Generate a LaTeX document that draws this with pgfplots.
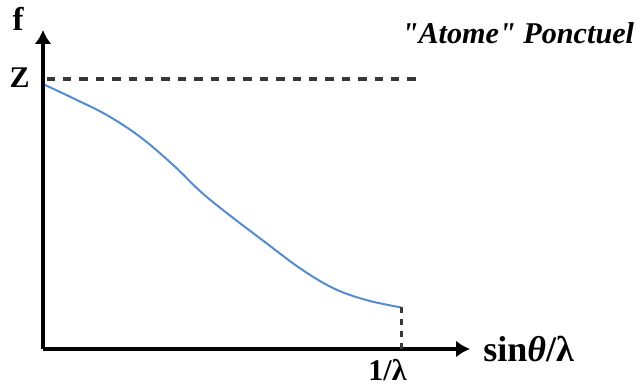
\documentclass[border=0pt]{standalone}
\usepackage{fontspec}
\setmainfont{Liberation Serif}[Ligatures=TeXOff]
\usepackage{pgfplots}
\pgfplotsset{compat=1.18}
\usetikzlibrary{arrows.meta}
\definecolor{curveblue}{RGB}{85,140,208}
\definecolor{dashgray}{RGB}{55,55,55}
\begin{document}
\begin{tikzpicture}[x=0.5pt,y=0.5pt]
\useasboundingbox (-43,-36) rectangle (599,349);
\begin{axis}[
  at={(0,0)}, anchor=south west,
  scale only axis, width=213.5pt, height=159.5pt,
  xmin=0, xmax=1.1927, ymin=0, ymax=1.1815,
  axis lines=left,
  axis line style={line width=2.3pt, -{Latex[length=7pt,width=8.5pt]}},
  ticks=none,
  clip=false,
]
\addplot[curveblue, line width=1pt, smooth, tension=0.6] coordinates {
(0.0056,0.978) (0.0846,0.9285) (0.178,0.8667) (0.271,0.786) (0.364,0.681)
(0.4385,0.585) (0.513,0.504) (0.625,0.391) (0.718,0.299) (0.811,0.225)
(0.904,0.181) (1.0,0.154)};
\addplot[dashgray, line width=1.8pt, dash pattern=on 4.2pt off 4pt] coordinates {(0.01,1) (1.053,1)};
\addplot[dashgray, line width=1.5pt, dash pattern=on 3pt off 3pt] coordinates {(1,0) (1,0.154)};
\node[anchor=base, inner sep=0pt, font=\fontsize{16.5}{19}\selectfont\bfseries] at (axis cs:-0.0698,1.181) {f};
\node[anchor=base east, inner sep=0pt, font=\fontsize{15}{17}\selectfont\bfseries] at (axis cs:-0.0363,0.970) {Z};
\node[anchor=base west, inner sep=0pt, font=\fontsize{15.1}{18}\selectfont\bfseries\itshape] at (axis cs:1.001,1.133) {"Atome" Ponctuel};
\node[anchor=base west, inner sep=0pt, font=\fontsize{18}{21}\selectfont\bfseries] at (axis cs:1.229,-0.048) {sin\textit{θ}/λ};
\node[anchor=base west, inner sep=0pt, font=\fontsize{15}{17}\selectfont\bfseries] at (axis cs:0.908,-0.1185) {1/λ};
\end{axis}
\end{tikzpicture}
\end{document}
